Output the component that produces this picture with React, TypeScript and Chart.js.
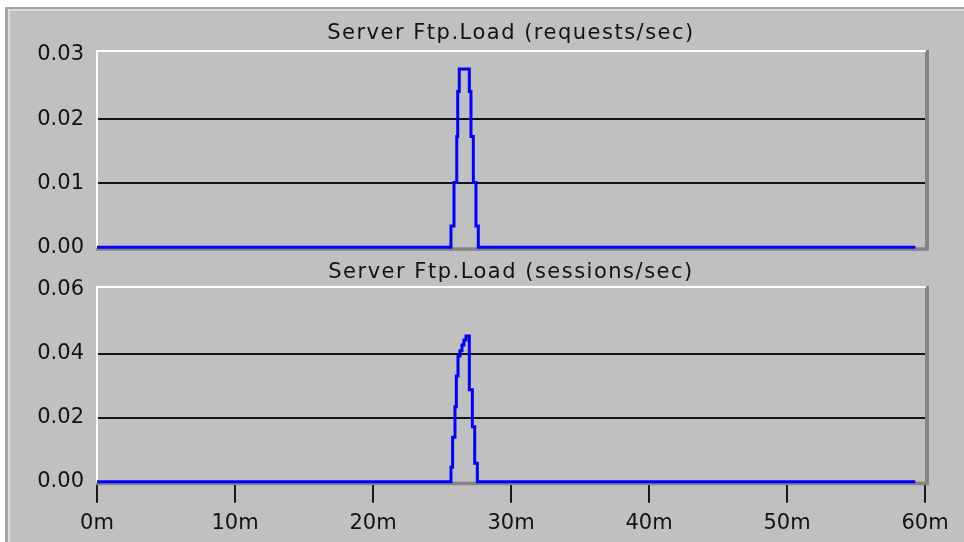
import { useEffect, useRef } from "react";
import { Chart, registerables } from "chart.js";

Chart.register(...registerables);

// ---- data ----
const xTickMinutes = [0, 10, 20, 30, 40, 50, 60];

const reqTitle = "Server Ftp.Load (requests/sec)";
const reqTimes = [0, 25.65, 25.87, 26.07, 26.14, 26.25, 26.98, 27.1, 27.27, 27.46, 27.63, 59.3];
const reqValues = [0, 0.00333, 0.0101, 0.0173, 0.0243, 0.0278, 0.0243, 0.0173, 0.0101, 0.00333, 0, 0];
const reqYTicks = [0, 0.01, 0.02, 0.03];

const sesTitle = "Server Ftp.Load (sessions/sec)";
const sesTimes = [0, 25.65, 25.77, 25.94, 26.04, 26.16, 26.3, 26.45, 26.59, 26.74, 26.98, 27.2, 27.37, 27.56, 59.3];
const sesValues = [0, 0.0045, 0.0139, 0.0234, 0.033, 0.0393, 0.0409, 0.0427, 0.0443, 0.0455, 0.0287, 0.0172, 0.00575, 0, 0];
const sesYTicks = [0, 0.02, 0.04, 0.06];

// ---- styling ----
const FONT = { family: "'DejaVu Sans', sans-serif", size: 21, lineHeight: 1.2, weight: "normal" as const };
const TEXT = "#121212";
const LINE_BLUE = "#0000ff";

const framePlugin = {
  id: "frame3d",
  beforeDraw(chart: any) {
    (chart.ctx as any).letterSpacing = "1.5px";
  },
  beforeDatasetsDraw(chart: any) {
    const ctx = chart.ctx as any;
    ctx.letterSpacing = "0px";
    const { left, right, top, bottom } = chart.chartArea;
    ctx.save();
    ctx.fillStyle = "#848484";
    ctx.fillRect(left - 1, bottom, right - left + 5, 3.5);
    ctx.fillRect(right, top, 4, bottom - top + 3.5);
    ctx.fillStyle = "#ffffff";
    ctx.fillRect(left - 1, top, right - left + 2, 2);
    ctx.fillRect(left - 1, top, 2, bottom - top + 1);
    ctx.restore();
  },
};

function buildConfig(
  title: string,
  times: number[],
  values: number[],
  yTicks: number[],
  yMax: number,
  showX: boolean,
  titlePad: { top: number; bottom: number },
  bottomPad: number
): any {
  const lastTick = yTicks[yTicks.length - 1];
  return {
    type: "line",
    data: {
      datasets: [
        {
          data: times.map((t, i) => ({ x: t, y: values[i] })),
          borderColor: LINE_BLUE,
          borderWidth: 3,
          pointRadius: 0,
          stepped: "before",
          tension: 0,
          fill: false,
          clip: false,
        },
      ],
    },
    options: {
      responsive: false,
      animation: false,
      devicePixelRatio: 1,
      layout: { padding: { left: 0, right: 39, top: 0, bottom: bottomPad } },
      plugins: {
        legend: { display: false },
        tooltip: { enabled: false },
        title: {
          display: true,
          text: title,
          fullSize: false,
          color: TEXT,
          font: { ...FONT, lineHeight: 1 },
          padding: titlePad,
        },
      },
      scales: {
        x: {
          type: "linear",
          min: 0,
          max: 60,
          display: showX,
          afterBuildTicks: (s: any) => {
            s.ticks = xTickMinutes.map((v) => ({ value: v }));
          },
          afterFit: (s: any) => {
            s.height = showX ? 60.3 : 0;
          },
          grid: {
            drawOnChartArea: false,
            drawTicks: true,
            tickLength: 21,
            color: "#1a1a1a",
            lineWidth: 2,
          },
          border: { display: false },
          ticks: {
            z: 1,
            padding: 8,
            maxRotation: 0,
            autoSkip: false,
            color: TEXT,
            font: FONT,
            callback: (v: any) => `${v}m`,
          },
        },
        y: {
          type: "linear",
          min: 0,
          max: yMax,
          afterBuildTicks: (s: any) => {
            s.ticks = yTicks.map((v) => ({ value: v }));
          },
          afterFit: (s: any) => {
            s.width = 97;
            s.paddingTop = 0;
            s.paddingBottom = 0;
          },
          grid: {
            drawTicks: false,
            lineWidth: 2,
            color: (c: any) =>
              c.tick && c.tick.value > 0 && c.tick.value < lastTick ? "#141414" : "rgba(0,0,0,0)",
          },
          border: { display: false },
          ticks: {
            z: 1,
            padding: 13,
            color: TEXT,
            font: FONT,
            callback: (v: any) => Number(v).toFixed(2),
          },
        },
      },
    },
    plugins: [framePlugin],
  };
}

export default function App() {
  const topRef = useRef<HTMLCanvasElement | null>(null);
  const botRef = useRef<HTMLCanvasElement | null>(null);

  useEffect(() => {
    const charts: Chart[] = [];
    if (topRef.current) {
      charts.push(
        new Chart(
          topRef.current,
          buildConfig(reqTitle, reqTimes, reqValues, reqYTicks, 0.03078, false, { top: 23, bottom: 6 }, 14.7)
        )
      );
    }
    if (botRef.current) {
      charts.push(
        new Chart(
          botRef.current,
          buildConfig(sesTitle, sesTimes, sesValues, sesYTicks, 0.06116, true, { top: 0, bottom: 3 }, 0)
        )
      );
    }
    return () => charts.forEach((c) => c.destroy());
  }, []);

  return (
    <div
      style={{
        position: "absolute",
        left: 0,
        top: 0,
        width: 964,
        height: 542,
        overflow: "hidden",
        background: "#ffffff",
      }}
    >
      <div
        style={{
          position: "absolute",
          left: 5,
          top: 7,
          right: 0,
          bottom: 0,
          background: "#c0c0c0",
          borderLeft: "3px solid #a4a4a4",
          borderTop: "2px solid #a4a4a4",
          boxShadow: "inset 2px 2px 0 #dcdcdc",
        }}
      />
      <canvas
        ref={topRef}
        width={964}
        height={262}
        style={{ position: "absolute", left: 0, top: 0, display: "block" }}
      />
      <canvas
        ref={botRef}
        width={964}
        height={280}
        style={{ position: "absolute", left: 0, top: 262, display: "block" }}
      />
    </div>
  );
}
